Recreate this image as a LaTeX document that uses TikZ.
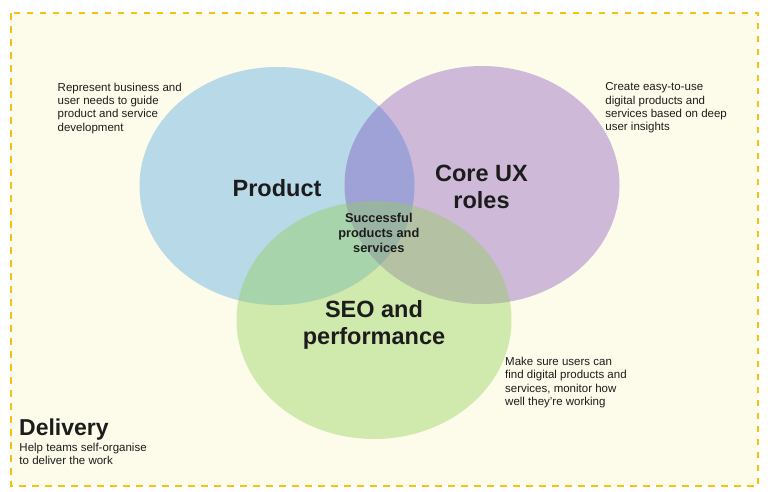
\documentclass[tikz,border=0pt]{standalone}
\usepackage{fontspec}
\setmainfont{Liberation Sans}
\usetikzlibrary{shapes.geometric}

\definecolor{paper}{HTML}{FDFCEA}
\definecolor{frameyellow}{HTML}{F5C211}
\definecolor{ink}{HTML}{1C1C1C}
\definecolor{productblue}{HTML}{B8D9E8}
\definecolor{uxpurple}{HTML}{6D2EB5}
\definecolor{seogreen}{HTML}{92CF5B}

\tikzset{
  venn/.style={ellipse, draw=none, inner sep=0pt, minimum width=275pt, minimum height=238pt},
  role/.style={inner sep=0pt, align=center, text=ink, font=\fontsize{23.5}{27}\selectfont\bfseries},
  blurb/.style={inner sep=0pt, align=left, anchor=north west, text=ink, font=\fontsize{11.5}{13.3}\selectfont},
}

\begin{document}
\begin{tikzpicture}[x=1pt,y=-1pt]
\useasboundingbox (0,0) rectangle (768,491);

%% delivery frame
\draw[frameyellow, line width=2.3pt, dash pattern=on 6.5pt off 6.5pt, fill=paper]
  (11,13) rectangle (758,486);

%% the three roles
\node[venn, fill=productblue] (product) at (277,186) {};
\node[venn, fill=uxpurple, fill opacity=0.32] (ux) at (482,185) {};
\node[venn, fill=seogreen, fill opacity=0.42] (seo) at (374,320) {};

\node[role, anchor=base] (productname) at (277,196) {Product};
\node[role, anchor=north] (uxname) at (481.5,165.3) {Core UX\\roles};
\node[role, anchor=north] (seoname) at (374,300.5) {SEO and\\performance};
\node[inner sep=0pt, align=center, anchor=north, text=ink,
  font=\fontsize{12.8}{14.8}\selectfont\bfseries] (success) at (378.8,213)
  {Successful\\products and\\services};

%% what each role does
\node[blurb] (productnote) at (57.5,82.6)
  {Represent business and\\user needs to guide\\product and service\\development};
\node[blurb] (uxnote) at (605.2,82.6)
  {Create easy-to-use\\digital products and\\services based on deep\\user insights};
\node[blurb] (seonote) at (505,356.9)
  {Make sure users can\\find digital products and\\services, monitor how\\well they're working};

%% delivery
\node[inner sep=0pt, anchor=base west, text=ink, font=\fontsize{23}{27}\selectfont\bfseries]
  (delivery) at (19,435.5) {Delivery};
\node[blurb] (deliverynote) at (19.3,442.5)
  {Help teams self-organise\\to deliver the work};
\end{tikzpicture}
\end{document}
